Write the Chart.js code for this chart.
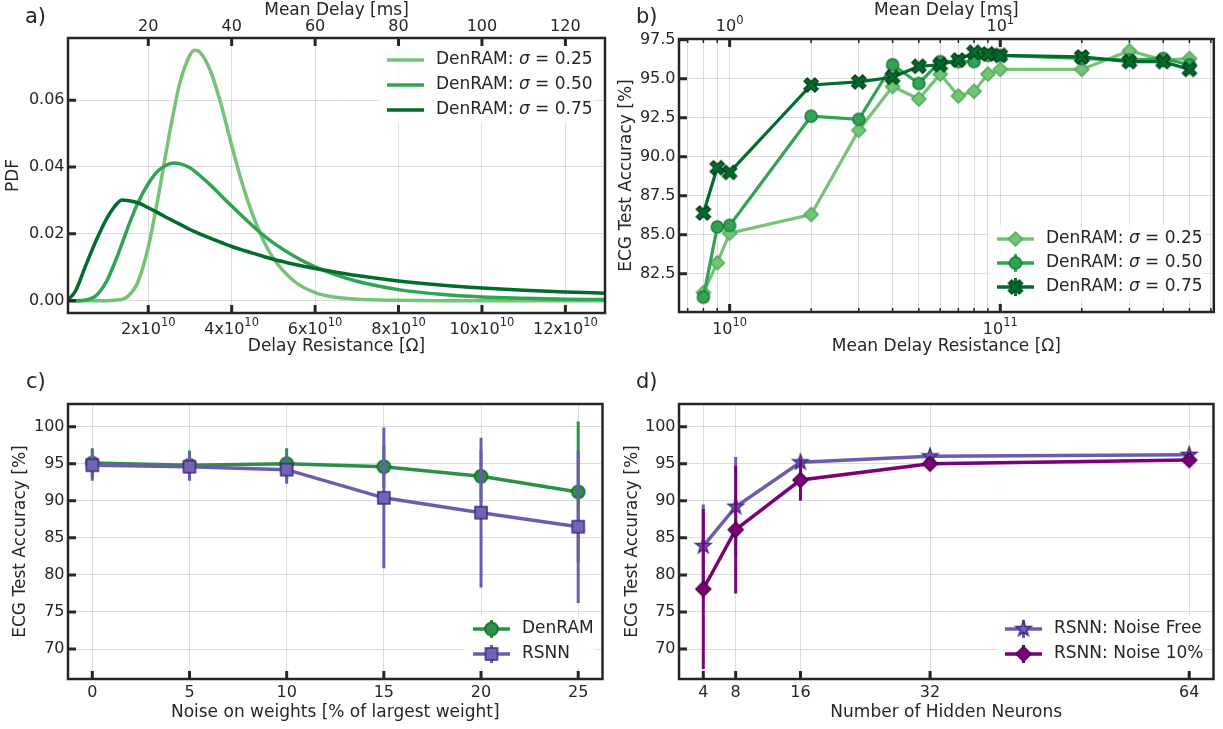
<!DOCTYPE html>
<html>
<head>
<meta charset="utf-8">
<title>DenRAM delay figure</title>
<script src="https://cdn.jsdelivr.net/npm/chart.js@4.4.1/dist/chart.umd.min.js"></script>
<style>
    body { margin: 0; background: #ffffff; }
    #figure { position: relative; width: 1223px; height: 729px; overflow: hidden; }
    #figure canvas { position: absolute; }
    .panel-label { position: absolute; font-family: "DejaVu Sans"; font-size: 21px; line-height: 21px; color: #262626; }
</style>
</head>
<body>
<div id="figure">
    <canvas id="chartA" width="612" height="366" style="left:0px;top:0px"></canvas>
    <canvas id="chartB" width="611" height="366" style="left:612px;top:0px"></canvas>
    <canvas id="chartC" width="612" height="363" style="left:0px;top:366px"></canvas>
    <canvas id="chartD" width="611" height="363" style="left:612px;top:366px"></canvas>
    <div class="panel-label" style="left:25px;top:6px">a)</div>
    <div class="panel-label" style="left:636px;top:6px">b)</div>
    <div class="panel-label" style="left:26px;top:371px">c)</div>
    <div class="panel-label" style="left:636px;top:371px">d)</div>
</div>
<script>
// a) delay distributions, x in units of 1e10 Ohm
const delayRes = [0.05, 0.25, 0.5, 0.75, 1.0, 1.25, 1.375, 1.5, 1.75, 2.0, 2.25, 2.5, 2.625, 2.75, 3.0, 3.125, 3.25,
    3.5, 3.75, 4.0, 4.25, 4.5, 4.75, 5.0, 5.5, 6.0, 6.5, 7.0, 8.0, 9.0, 10.0, 11.0, 12.0, 13.0];
const pdfSigma025 = [0, 0, 0, 0, 0, 0.0002, 0.0004, 0.0012, 0.0055, 0.016, 0.0318, 0.0495, 0.0575, 0.0648, 0.0735, 0.0749, 0.0742,
    0.0685, 0.0585, 0.0465, 0.0352, 0.0258, 0.0183, 0.0127, 0.0058, 0.0024, 0.001, 0.0004, 0.0001, 0, 0, 0, 0, 0];
const pdfSigma050 = [0, 0, 0.0002, 0.0015, 0.0058, 0.013, 0.0172, 0.0215, 0.0292, 0.035, 0.039, 0.0409, 0.0412, 0.041, 0.0398, 0.0386, 0.0373,
    0.0345, 0.0314, 0.0283, 0.0253, 0.0224, 0.0197, 0.0173, 0.0133, 0.0101, 0.0077, 0.0058, 0.0033, 0.0019, 0.0011, 0.0007, 0.0004, 0.0003];
const pdfSigma075 = [0, 0.0028, 0.0105, 0.018, 0.0245, 0.029, 0.0301, 0.03, 0.0293, 0.0278, 0.0262, 0.0245, 0.0237, 0.0229, 0.0213, 0.0206, 0.0199,
    0.0186, 0.0174, 0.0162, 0.0152, 0.0142, 0.0133, 0.0124, 0.0109, 0.0096, 0.0085, 0.0075, 0.0059, 0.0047, 0.0038, 0.0031, 0.0026, 0.0022];
const delayResTicks = [2, 4, 6, 8, 10, 12];
const meanDelayTicks = [20, 40, 60, 80, 100, 120];
const pdfTicks = [0, 0.02, 0.04, 0.06];

// b) accuracy vs mean delay resistance
const meanRes = [8e9, 9e9, 1e10, 2e10, 3e10, 4e10, 5e10, 6e10, 7e10, 8e10, 9e10, 1e11, 2e11, 3e11, 4e11, 5e11];
const accSigma025 = [81.3, 83.2, 85.1, 86.3, 91.7, 94.5, 93.7, 95.3, 93.9, 94.2, 95.3, 95.6, 95.6, 96.8, 96.2, 96.3];
const accSigma050 = [81.0, 85.5, 85.6, 92.6, 92.4, 95.9, 94.7, 96.1, 96.1, 96.1, 96.5, 96.5, 96.3, 96.2, 96.3, 95.9];
const accSigma075 = [86.4, 89.3, 89.0, 94.6, 94.8, 95.1, 95.8, 95.9, 96.2, 96.7, 96.6, 96.5, 96.4, 96.1, 96.1, 95.6];
const resDecades = [1e10, 1e11];
const delayDecades = [1, 10];
const accTicksB = [82.5, 85, 87.5, 90, 92.5, 95, 97.5];

// c) weight noise
const noiseLevels = [0, 5, 10, 15, 20, 25];
const denramAcc = [95.1, 94.8, 95.0, 94.6, 93.3, 91.2];
const denramErr = [2.0, 2.0, 2.1, 2.8, 3.5, 9.5];
const rsnnAcc = [94.8, 94.6, 94.2, 90.4, 88.4, 86.5];
const rsnnErr = [2.1, 1.9, 1.9, 9.5, 10.1, 10.3];

// d) hidden neurons
const hiddenNeurons = [4, 8, 16, 32, 64];
const freeAcc = [83.9, 89.2, 95.2, 96.0, 96.2];
const freeErr = [5.6, 6.7, 0.5, 0.3, 0.3];
const noisyAcc = [78.1, 86.1, 92.8, 95.0, 95.5];
const noisyErr = [10.8, 8.6, 2.8, 0.4, 0.4];
const accTicksCD = [70, 75, 80, 85, 90, 95, 100];

const INK = '#262626';
const GRID = '#dcdcdc';
const FONT = '"DejaVu Sans"';
const GREEN_L = '#74c476', GREEN_M = '#31a354', GREEN_D = '#006d2c';
const DEN_GREEN = '#2a9147';
const PURPLE = '#6c5cae';
const MAGENTA = '#7a0177';

Chart.defaults.font.family = FONT;
Chart.defaults.font.size = 16;
Chart.defaults.color = INK;
Chart.defaults.animation = false;
Chart.defaults.plugins.legend.display = false;
Chart.defaults.plugins.tooltip.enabled = false;

function makeMarker(shape, size, fill, edge) {
    let c = document.createElement('canvas');
    c.width = c.height = Math.ceil(size) + 6;
    let g = c.getContext('2d');
    let m = c.width / 2, r = size / 2;
    g.beginPath();
    if (shape == 'circle') {
        g.arc(m, m, r, 0, Math.PI * 2);
    } else if (shape == 'square') {
        g.rect(m - r, m - r, size, size);
    } else if (shape == 'diamond') {
        g.moveTo(m, m - r); g.lineTo(m + r, m); g.lineTo(m, m + r); g.lineTo(m - r, m);
    } else if (shape == 'star') {
        for (let i = 0; i < 10; i++) {
            let rr = i % 2 ? r * 0.4 : r;
            let ang = -Math.PI / 2 + i * Math.PI / 5;
            g.lineTo(m + rr * Math.cos(ang), m + rr * Math.sin(ang));
        }
    } else if (shape == 'x') {
        let L = r / (1.3 * Math.SQRT1_2), w = 0.3 * L;
        let pts = [[w, L], [w, w], [L, w], [L, -w], [w, -w], [w, -L], [-w, -L], [-w, -w], [-L, -w], [-L, w], [-w, w], [-w, L]];
        pts.forEach(p => g.lineTo(m + (p[0] - p[1]) * Math.SQRT1_2, m + (p[0] + p[1]) * Math.SQRT1_2));
    }
    g.closePath();
    g.fillStyle = fill;
    g.fill();
    g.lineWidth = 1.5;
    g.strokeStyle = edge;
    g.stroke();
    return c;
}

const mkDiamondB = makeMarker('diamond', 14, GREEN_L, '#4fa85e');
const mkCircleB = makeMarker('circle', 12, GREEN_M, '#1c7a3b');
const mkCrossB = makeMarker('x', 14, GREEN_D, '#00441b');
const mkCircleC = makeMarker('circle', 13, DEN_GREEN, '#17652f');
const mkSquareC = makeMarker('square', 12, '#7363b3', '#432a86');
const mkStarD = makeMarker('star', 16, '#7363b3', '#432a86');
const mkDiamondD = makeMarker('diamond', 15, MAGENTA, '#4d004b');

function xy(xs, ys) {
    return xs.map((x, i) => ({ x: x, y: ys[i] }));
}

function errorBars(xs, ys, es, color, order) {
    return xs.map((x, i) => ({
        data: [{ x: x, y: ys[i] - es[i] }, { x: x, y: ys[i] + es[i] }],
        borderColor: color, borderWidth: 3, pointRadius: 0, order: order
    }));
}

function fixedWidth(w) { return s => { s.width = w; }; }
function fixedHeight(h) { return s => { s.height = h; }; }
function useTicks(values) { return s => { s.ticks = values.map(v => ({ value: v })); }; }

function minorLog(lo, hi) {
    let out = [];
    [0.1, 1, 10, 1e9, 1e10, 1e11].forEach(dec => {
        for (let k = 2; k <= 9; k++) {
            let v = k * dec;
            if (v >= lo && v <= hi) out.push(v);
        }
    });
    return out;
}

function tickMarks(chart, m) {
    let s = chart.scales[m.scale], a = chart.chartArea, ctx = chart.ctx;
    ctx.strokeStyle = INK;
    ctx.lineWidth = m.width;
    ctx.beginPath();
    m.values.forEach(v => {
        let p = s.getPixelForValue(v);
        if (m.side == 'bottom') { ctx.moveTo(p, a.bottom); ctx.lineTo(p, a.bottom - m.len); }
        if (m.side == 'top') { ctx.moveTo(p, a.top); ctx.lineTo(p, a.top + m.len); }
        if (m.side == 'left') { ctx.moveTo(a.left, p); ctx.lineTo(a.left + m.len, p); }
    });
    ctx.stroke();
}

// labels like 2x10^10 with a real superscript
function powerLabels(chart, p) {
    let s = chart.scales[p.scale], ctx = chart.ctx;
    ctx.fillStyle = INK;
    ctx.textAlign = 'left';
    ctx.textBaseline = 'alphabetic';
    p.values.forEach(v => {
        let parts = p.text(v);
        ctx.font = '16px ' + FONT;
        let wb = ctx.measureText(parts[0]).width;
        ctx.font = '11.5px ' + FONT;
        let we = ctx.measureText(parts[1]).width;
        let left = s.getPixelForValue(v) - (wb + we) / 2;
        ctx.font = '16px ' + FONT;
        ctx.fillText(parts[0], left, p.y);
        ctx.font = '11.5px ' + FONT;
        ctx.fillText(parts[1], left + wb, p.y - 7.5);
    });
}

function labelRun(ctx, text, x, y, draw) {
    let cx = x;
    text.split('σ').forEach((part, i) => {
        if (i > 0) {
            ctx.font = 'italic 17px ' + FONT;
            if (draw) ctx.fillText('σ', cx, y);
            cx += ctx.measureText('σ').width;
        }
        ctx.font = '17px ' + FONT;
        if (draw) ctx.fillText(part, cx, y);
        cx += ctx.measureText(part).width;
    });
    return cx - x;
}

function drawLegend(chart, lg) {
    let ctx = chart.ctx;
    ctx.textAlign = 'left';
    ctx.textBaseline = 'middle';
    let widest = 0;
    lg.items.forEach(it => { widest = Math.max(widest, labelRun(ctx, it.label, 0, 0, false)); });
    ctx.fillStyle = 'rgba(255,255,255,0.85)';
    ctx.fillRect(lg.x - 8, lg.y - 14, 49 + widest + 10, (lg.items.length - 1) * lg.row + 28);
    lg.items.forEach((it, i) => {
        let y = lg.y + i * lg.row, mid = lg.x + 18.5;
        ctx.strokeStyle = it.color;
        ctx.lineWidth = 3.5;
        ctx.beginPath(); ctx.moveTo(lg.x, y); ctx.lineTo(lg.x + 37, y); ctx.stroke();
        if (it.err) {
            ctx.lineWidth = 3;
            ctx.beginPath(); ctx.moveTo(mid, y - 9); ctx.lineTo(mid, y + 9); ctx.stroke();
        }
        if (it.marker) ctx.drawImage(it.marker, mid - it.marker.width / 2, y - it.marker.height / 2);
        ctx.fillStyle = INK;
        labelRun(ctx, it.label, lg.x + 49, y, true);
    });
}

function decor(opts) {
    return {
        id: 'decor',
        afterDatasetsDraw(chart) {
            let ctx = chart.ctx, a = chart.chartArea;
            ctx.save();
            opts.marks.forEach(m => tickMarks(chart, m));
            ctx.lineWidth = 2.5;
            ctx.strokeStyle = INK;
            ctx.strokeRect(a.left, a.top, a.right - a.left, a.bottom - a.top);
            (opts.powers || []).forEach(p => powerLabels(chart, p));
            if (opts.legend) drawLegend(chart, opts.legend);
            ctx.restore();
        }
    };
}

function gridAxis(extra) {
    return Object.assign({
        grid: { color: GRID, lineWidth: 1, drawTicks: false },
        border: { display: false }
    }, extra);
}

function title(text, pad) {
    return { display: true, text: text, font: { size: 17 }, padding: pad };
}

// ---------- a) ----------
function curve(values, color, order) {
    return {
        data: xy(delayRes, values), borderColor: color, borderWidth: 3.5,
        pointRadius: 0, cubicInterpolationMode: 'monotone', order: order
    };
}

new Chart('chartA', {
    type: 'line',
    data: {
        datasets: [curve(pdfSigma025, GREEN_L, 3), curve(pdfSigma050, GREEN_M, 2), curve(pdfSigma075, GREEN_D, 1)]
    },
    options: {
        responsive: false,
        devicePixelRatio: 1,
        layout: { padding: { left: 0, right: 7, top: 0, bottom: 0 } },
        scales: {
            x: gridAxis({
                type: 'linear', position: 'bottom', min: 0.076, max: 12.95,
                afterBuildTicks: useTicks(delayResTicks), afterFit: fixedHeight(53),
                ticks: { display: false },
                title: title('Delay Resistance [Ω]', { top: 0, bottom: 8.8 })
            }),
            xTop: {
                type: 'linear', position: 'top', min: 0.76, max: 129.5,
                afterBuildTicks: useTicks(meanDelayTicks), afterFit: fixedHeight(38),
                ticks: { padding: 2 },
                grid: { display: false, drawTicks: false }, border: { display: false },
                title: title('Mean Delay [ms]', { top: 0, bottom: 0 })
            },
            y: gridAxis({
                type: 'linear', min: -0.0037, max: 0.0786,
                afterBuildTicks: useTicks(pdfTicks), afterFit: fixedWidth(68),
                ticks: { padding: 3.5, callback: v => v.toFixed(2) },
                title: title('PDF', { top: 3.5, bottom: 0 })
            })
        }
    },
    plugins: [decor({
        marks: [
            { scale: 'x', side: 'bottom', values: delayResTicks, len: 8, width: 3 },
            { scale: 'xTop', side: 'top', values: meanDelayTicks, len: 8, width: 3 },
            { scale: 'y', side: 'left', values: pdfTicks, len: 8, width: 3 }
        ],
        powers: [{ scale: 'x', values: delayResTicks, y: 333.5, text: v => [v + 'x10', '10'] }],
        legend: {
            x: 387, y: 60, row: 25, items: [
                { label: 'DenRAM: σ = 0.25', color: GREEN_L },
                { label: 'DenRAM: σ = 0.50', color: GREEN_M },
                { label: 'DenRAM: σ = 0.75', color: GREEN_D }
            ]
        }
    })]
});

// ---------- b) ----------
const resMin = 6.5e9, resMax = 6.15e11;
const resMinor = minorLog(resMin, resMax);
const delayMinor = minorLog(resMin / 1e10, resMax / 1e10);

function accLine(values, color, mk, order) {
    return {
        data: xy(meanRes, values), borderColor: color, borderWidth: 3.2,
        pointStyle: mk, pointRadius: 6, order: order
    };
}

new Chart('chartB', {
    type: 'line',
    data: {
        datasets: [
            accLine(accSigma025, GREEN_L, mkDiamondB, 3),
            accLine(accSigma050, GREEN_M, mkCircleB, 2),
            accLine(accSigma075, GREEN_D, mkCrossB, 1)
        ]
    },
    options: {
        responsive: false,
        devicePixelRatio: 1,
        layout: { padding: { left: 0, right: 8, top: 0, bottom: 0 } },
        scales: {
            x: gridAxis({
                type: 'logarithmic', position: 'bottom', min: resMin, max: resMax,
                afterBuildTicks: useTicks(resMinor.concat(resDecades)), afterFit: fixedHeight(54),
                ticks: { display: false },
                title: title('Mean Delay Resistance [Ω]', { top: 0, bottom: 8.8 })
            }),
            xTop: {
                type: 'logarithmic', position: 'top', min: resMin / 1e10, max: resMax / 1e10,
                afterBuildTicks: useTicks(delayDecades), afterFit: fixedHeight(39),
                ticks: { display: false },
                grid: { display: false, drawTicks: false }, border: { display: false },
                title: title('Mean Delay [ms]', { top: 0, bottom: 0 })
            },
            y: gridAxis({
                type: 'linear', min: 80.05, max: 97.55,
                afterBuildTicks: useTicks(accTicksB), afterFit: fixedWidth(67),
                ticks: { padding: 3.5, callback: v => v.toFixed(1) },
                title: title('ECG Test Accuracy [%]', { top: 4.8, bottom: 0 })
            })
        }
    },
    plugins: [decor({
        marks: [
            { scale: 'x', side: 'bottom', values: resDecades, len: 8, width: 3 },
            { scale: 'x', side: 'bottom', values: resMinor, len: 4, width: 1.5 },
            { scale: 'xTop', side: 'top', values: delayDecades, len: 8, width: 3 },
            { scale: 'xTop', side: 'top', values: delayMinor, len: 4, width: 1.5 },
            { scale: 'y', side: 'left', values: accTicksB, len: 8, width: 3 }
        ],
        powers: [
            { scale: 'x', values: resDecades, y: 333.5, text: v => ['10', String(Math.round(Math.log10(v)))] },
            { scale: 'xTop', values: delayDecades, y: 31, text: v => ['10', String(Math.round(Math.log10(v)))] }
        ],
        legend: {
            x: 385, y: 239, row: 24, items: [
                { label: 'DenRAM: σ = 0.25', color: GREEN_L, marker: mkDiamondB },
                { label: 'DenRAM: σ = 0.50', color: GREEN_M, marker: mkCircleB, err: true },
                { label: 'DenRAM: σ = 0.75', color: GREEN_D, marker: mkCrossB, err: true }
            ]
        }
    })]
});

// ---------- c) and d) ----------
function accAxes(xMin, xMax, xTicks, xTitle, yWidth) {
    return {
        x: gridAxis({
            type: 'linear', position: 'bottom', min: xMin, max: xMax,
            afterBuildTicks: useTicks(xTicks), afterFit: fixedHeight(50),
            ticks: { padding: 4.4 },
            title: title(xTitle, { top: 0, bottom: 5.8 })
        }),
        y: gridAxis({
            type: 'linear', min: 65.96, max: 103.06,
            afterBuildTicks: useTicks(accTicksCD), afterFit: fixedWidth(yWidth),
            ticks: { padding: 3.5 },
            title: title('ECG Test Accuracy [%]', { top: 10, bottom: 0 })
        })
    };
}

function markedLine(xs, ys, color, mk, order) {
    return { data: xy(xs, ys), borderColor: color, borderWidth: 3.5, pointStyle: mk, pointRadius: 6, order: order };
}

new Chart('chartC', {
    type: 'line',
    data: {
        datasets: errorBars(noiseLevels, denramAcc, denramErr, DEN_GREEN, 4)
            .concat([markedLine(noiseLevels, denramAcc, DEN_GREEN, mkCircleC, 3)])
            .concat(errorBars(noiseLevels, rsnnAcc, rsnnErr, PURPLE, 2))
            .concat([markedLine(noiseLevels, rsnnAcc, PURPLE, mkSquareC, 1)])
    },
    options: {
        responsive: false,
        devicePixelRatio: 1,
        layout: { padding: { left: 0, right: 6, top: 38, bottom: 0 } },
        scales: accAxes(-1.25, 26.25, noiseLevels, 'Noise on weights [% of largest weight]', 68)
    },
    plugins: [decor({
        marks: [
            { scale: 'x', side: 'bottom', values: noiseLevels, len: 8, width: 3 },
            { scale: 'y', side: 'left', values: accTicksCD, len: 8, width: 3 }
        ],
        legend: {
            x: 473, y: 263, row: 25, items: [
                { label: 'DenRAM', color: DEN_GREEN, marker: mkCircleC, err: true },
                { label: 'RSNN', color: PURPLE, marker: mkSquareC, err: true }
            ]
        }
    })]
});

new Chart('chartD', {
    type: 'line',
    data: {
        datasets: errorBars(hiddenNeurons, freeAcc, freeErr, PURPLE, 4)
            .concat([markedLine(hiddenNeurons, freeAcc, PURPLE, mkStarD, 3)])
            .concat(errorBars(hiddenNeurons, noisyAcc, noisyErr, MAGENTA, 2))
            .concat([markedLine(hiddenNeurons, noisyAcc, MAGENTA, mkDiamondD, 1)])
    },
    options: {
        responsive: false,
        devicePixelRatio: 1,
        layout: { padding: { left: 0, right: 8, top: 38, bottom: 0 } },
        scales: accAxes(1, 67, hiddenNeurons, 'Number of Hidden Neurons', 67)
    },
    plugins: [decor({
        marks: [
            { scale: 'x', side: 'bottom', values: hiddenNeurons, len: 8, width: 3 },
            { scale: 'y', side: 'left', values: accTicksCD, len: 8, width: 3 }
        ],
        legend: {
            x: 393, y: 263, row: 25, items: [
                { label: 'RSNN: Noise Free', color: PURPLE, marker: mkStarD, err: true },
                { label: 'RSNN: Noise 10%', color: MAGENTA, marker: mkDiamondD, err: true }
            ]
        }
    })]
});
</script>
</body>
</html>
